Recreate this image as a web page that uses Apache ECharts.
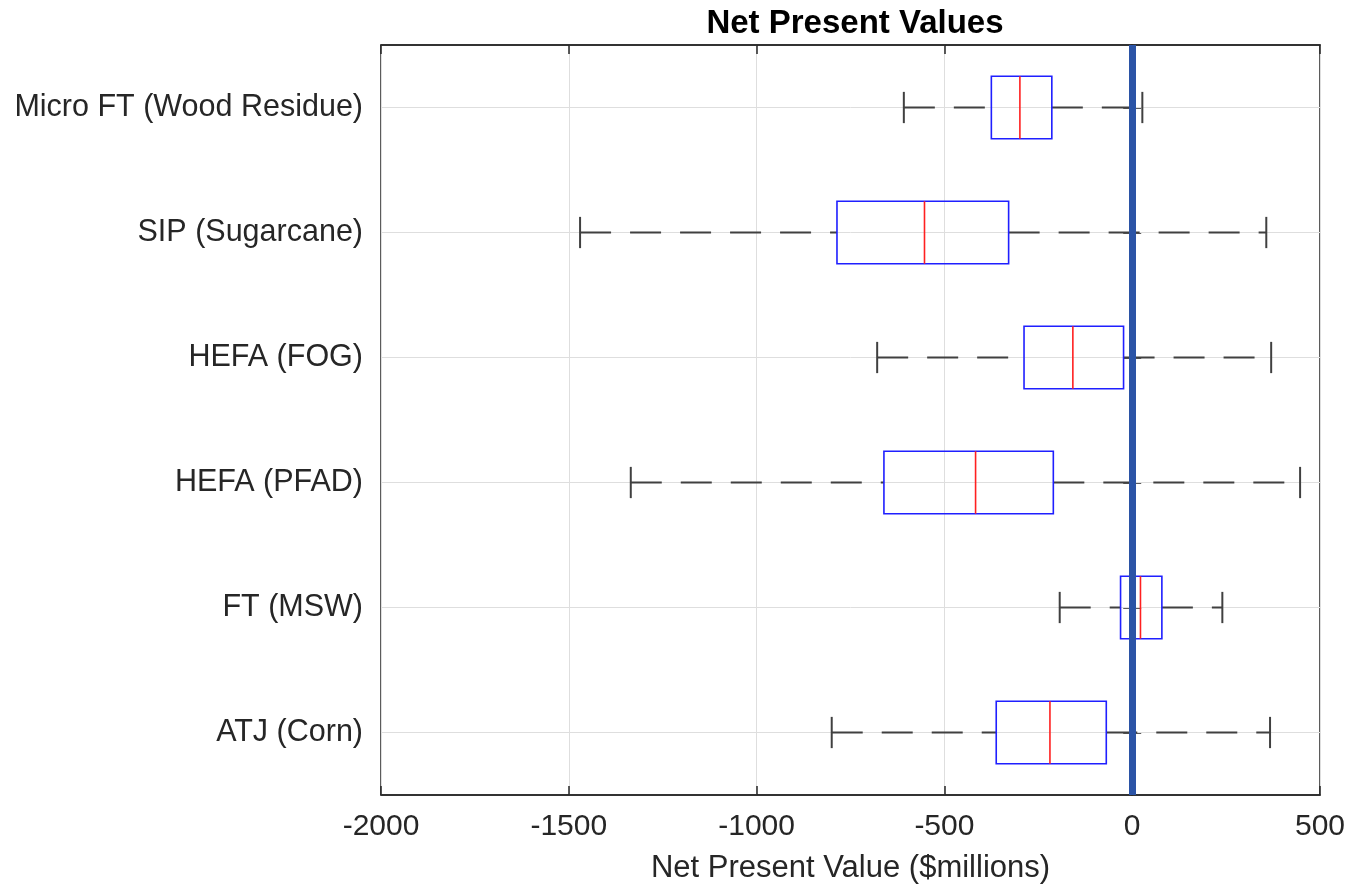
<!DOCTYPE html>
<html>
<head>
<meta charset="utf-8">
<script src="https://cdn.jsdelivr.net/npm/echarts@6/dist/echarts.min.js"></script>
<style>
html,body{margin:0;padding:0;background:#fff;}
#chart{width:1349px;height:889px;}
</style>
</head>
<body>
<div id="chart"></div>
<script>
// Categories listed bottom-to-top
const categories = ['ATJ (Corn)', 'FT (MSW)', 'HEFA (PFAD)', 'HEFA (FOG)', 'SIP (Sugarcane)', 'Micro FT (Wood Residue)'];
const whiskerLow = [-800, -193, -1335, -679, -1470, -608];
const q1Values   = [-362, -31, -661, -288, -786, -375];
const medians    = [-219, 22, -417, -158, -553, -299];
const q3Values   = [-69, 79, -210, -23, -329, -214];
const whiskerHigh= [367, 240, 447, 370, 357, 27];
const xTicks = { min: -2000, max: 500, interval: 500 };
const refLine = 0;

const boxData = categories.map((c, i) => [i, whiskerLow[i], q1Values[i], medians[i], q3Values[i], whiskerHigh[i]]);

const FONT = "'Liberation Sans', Arial, Helvetica, sans-serif";
const AX = '#262626';

const chart = echarts.init(document.getElementById('chart'), null, {renderer: 'canvas'});

function renderItem(params, api) {
  const ci = api.value(0);
  const pMin = api.coord([api.value(1), ci]);
  const pQ1 = api.coord([api.value(2), ci]);
  const pMed = api.coord([api.value(3), ci]);
  const pQ3 = api.coord([api.value(4), ci]);
  const pMax = api.coord([api.value(5), ci]);
  const band = api.size([0, 1])[1];
  const bh = band * 0.5;
  const ch = band * 0.25;
  const y = pMin[1];
  const cs = params.coordSys;
  const whiskerStyle = {stroke: '#404040', lineWidth: 2, lineDash: [31, 19], fill: null};
  const capStyle = {stroke: '#404040', lineWidth: 2};
  return {
    type: 'group',
    children: [
      {type: 'line', shape: {x1: cs.x, y1: y, x2: cs.x + cs.width, y2: y}, style: {stroke: '#dedede', lineWidth: 1}, z2: 0},
      {type: 'line', shape: {x1: pMin[0], y1: y, x2: pQ1[0], y2: y}, style: whiskerStyle, z2: 1},
      {type: 'line', shape: {x1: pQ3[0], y1: y, x2: pMax[0], y2: y}, style: whiskerStyle, z2: 1},
      {type: 'line', shape: {x1: pMin[0], y1: y - ch / 2, x2: pMin[0], y2: y + ch / 2}, style: capStyle, z2: 1},
      {type: 'line', shape: {x1: pMax[0], y1: y - ch / 2, x2: pMax[0], y2: y + ch / 2}, style: capStyle, z2: 1},
      {type: 'rect', shape: {x: pQ1[0], y: y - bh / 2, width: pQ3[0] - pQ1[0], height: bh},
        style: {stroke: '#1f1fff', lineWidth: 1.6, fill: 'rgba(0,0,0,0)'}, z2: 2},
      {type: 'line', shape: {x1: pMed[0], y1: y - bh / 2, x2: pMed[0], y2: y + bh / 2},
        style: {stroke: '#ff2020', lineWidth: 1.6}, z2: 3}
    ]
  };
}

const option = {
  backgroundColor: '#fff',
  animation: false,
  title: {
    text: 'Net Present Values',
    left: 850, top: 2, textAlign: 'center',
    textStyle: {fontFamily: FONT, fontSize: 33, fontWeight: 'bold', color: '#000'}
  },
  grid: {left: 381, right: 29, top: 45, bottom: 94, show: true, borderColor: AX, borderWidth: 1.5, backgroundColor: '#fff'},
  xAxis: [
    {
      type: 'value', position: 'bottom', min: xTicks.min, max: xTicks.max, interval: xTicks.interval,
      name: 'Net Present Value ($millions)', nameLocation: 'middle', nameGap: 58,
      nameTextStyle: {fontFamily: FONT, fontSize: 31, color: AX},
      axisLine: {show: true, lineStyle: {color: AX, width: 1.5}},
      axisTick: {show: true, inside: true, length: 9, lineStyle: {color: AX, width: 1.5}},
      axisLabel: {fontFamily: FONT, fontSize: 30, color: AX, margin: 17, formatter: v => String(v)},
      splitLine: {show: true, lineStyle: {color: '#dedede', width: 1}}
    },
    {
      type: 'value', position: 'top', min: xTicks.min, max: xTicks.max, interval: xTicks.interval,
      axisLine: {show: true, lineStyle: {color: AX, width: 1.5}},
      axisTick: {show: true, inside: true, length: 9, lineStyle: {color: AX, width: 1.5}},
      axisLabel: {show: false}, splitLine: {show: false}
    }
  ],
  yAxis: [
    {
      type: 'category', data: categories, position: 'left', boundaryGap: true,
      axisLine: {show: true, lineStyle: {color: AX, width: 1.5}},
      axisTick: {show: true, inside: true, length: 9, alignWithLabel: true, lineStyle: {color: AX, width: 1.5}},
      axisLabel: {fontFamily: FONT, fontSize: 30.5, color: AX, margin: 18},
      splitLine: {show: false}
    },
    {
      type: 'category', data: categories, position: 'right', boundaryGap: true,
      axisLine: {show: true, lineStyle: {color: AX, width: 1.5}},
      axisTick: {show: true, inside: true, length: 9, alignWithLabel: true, lineStyle: {color: AX, width: 1.5}},
      axisLabel: {show: false}, splitLine: {show: false}
    }
  ],
  series: [
    {
      type: 'custom',
      xAxisIndex: 0, yAxisIndex: 0,
      renderItem: renderItem,
      encode: {x: [1, 2, 3, 4, 5], y: 0},
      data: boxData,
      clip: true,
      silent: true,
      markLine: {
        silent: true,
        symbol: ['none', 'none'],
        label: {show: false},
        lineStyle: {color: '#2b54a6', width: 7, type: 'solid'},
        data: [{xAxis: refLine}],
        z: 10
      }
    }
  ]
};
chart.setOption(option);
</script>
</body>
</html>
